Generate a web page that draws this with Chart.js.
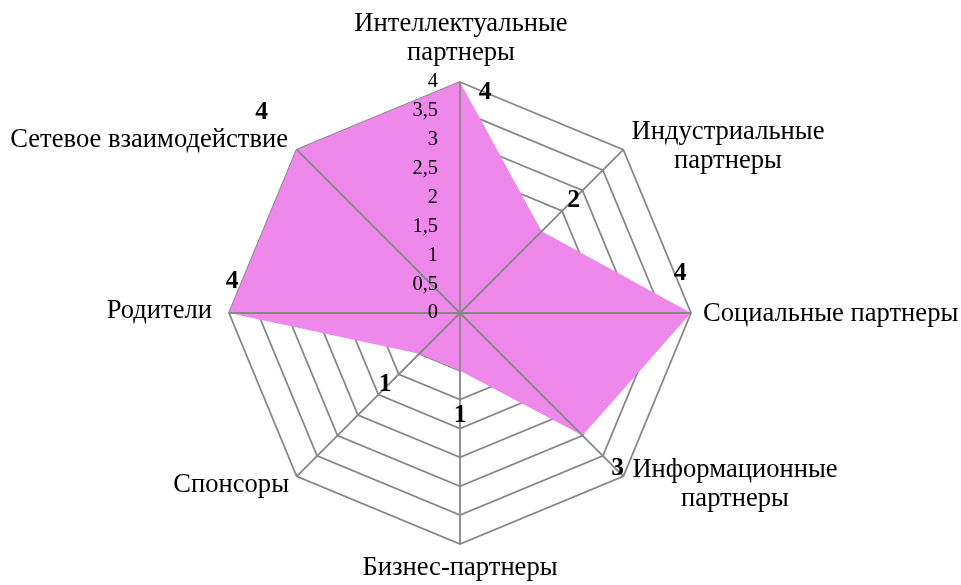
<!DOCTYPE html>
<html>
<head>
<meta charset="utf-8">
<script src="https://cdn.jsdelivr.net/npm/chart.js@4/dist/chart.umd.min.js"></script>
<style>
  html, body { margin: 0; padding: 0; background: #fff; }
  #wrap { width: 961px; height: 585px; }
</style>
</head>
<body>
<div id="wrap"><canvas id="myChart" width="961" height="585"></canvas></div>
<script>
// данные диаграммы
const categories = [
    ["Интеллектуальные", "партнеры"],
    ["Индустриальные", "партнеры"],
    ["Социальные партнеры"],
    ["Информационные", "партнеры"],
    ["Бизнес-партнеры"],
    ["Спонсоры"],
    ["Родители"],
    ["Сетевое взаимодействие"]
];
const values = [4, 2, 4, 3, 1, 1, 4, 4];
const tickLabels = ["0", "0,5", "1", "1,5", "2", "2,5", "3", "3,5", "4"];

const serif = "'Liberation Serif', 'Times New Roman', serif";
const gridColor = '#878787';

// position des libellés d'axes (ligne de base de la 1re ligne + alignement)
const catLabelPos = [
    { x: 461, y: 31, align: 'center' },
    { x: 728, y: 139, align: 'center' },
    { x: 703, y: 321, align: 'left' },
    { x: 735, y: 477, align: 'center' },
    { x: 460, y: 575, align: 'center' },
    { x: 289, y: 492, align: 'right' },
    { x: 212, y: 318, align: 'right' },
    { x: 288, y: 147, align: 'right' }
];
// décalage des étiquettes de valeurs par rapport au point
const valueLabelOffset = [
    [25, 10], [32, -31], [-11, -40], [35, 33],
    [0, 45], [-34, 31], [3, -32], [-35, -37]
];

const labelsPlugin = {
    id: 'labelsPlugin',
    // les rayons passent au-dessus du remplissage, les anneaux en dessous
    afterDatasetsDraw(chart) {
        const ctx = chart.ctx;
        const scale = chart.scales.r;
        ctx.save();
        ctx.strokeStyle = gridColor;
        ctx.lineWidth = 1.8;
        categories.forEach((c, i) => {
            const pt = scale.getPointPosition(i, scale.drawingArea);
            ctx.beginPath();
            ctx.moveTo(scale.xCenter, scale.yCenter);
            ctx.lineTo(pt.x, pt.y);
            ctx.stroke();
        });
        ctx.restore();
    },
    afterDraw(chart) {
        const ctx = chart.ctx;
        const scale = chart.scales.r;
        ctx.save();
        ctx.fillStyle = '#000';

        // graduations à gauche de l'axe vertical
        ctx.textBaseline = 'middle';
        ctx.font = '20.5px ' + serif;
        ctx.textAlign = 'right';
        tickLabels.forEach((t, i) => {
            const d = scale.getDistanceFromCenterForValue(i * 0.5);
            ctx.fillText(t, scale.xCenter - 22, scale.yCenter - d);
        });

        // noms des catégories
        ctx.textBaseline = 'alphabetic';
        ctx.font = '26.6px ' + serif;
        categories.forEach((lines, i) => {
            const p = catLabelPos[i];
            ctx.textAlign = p.align;
            lines.forEach((line, j) => {
                ctx.fillText(line, p.x, p.y + j * 28.5);
            });
        });

        // valeurs en gras
        ctx.textBaseline = 'middle';
        ctx.font = 'bold 25.5px ' + serif;
        ctx.textAlign = 'center';
        values.forEach((v, i) => {
            const pt = scale.getPointPositionForValue(i, v);
            ctx.fillText(String(v), pt.x + valueLabelOffset[i][0], pt.y + valueLabelOffset[i][1]);
        });
        ctx.restore();
    }
};

const ctx = document.getElementById('myChart').getContext('2d');
const myChart = new Chart(ctx, {
    type: 'radar',
    data: {
        labels: categories.map(c => c.join(' ')),
        datasets: [{
            data: values,
            backgroundColor: '#ee88ea',
            borderWidth: 0,
            pointRadius: 0,
            fill: true
        }]
    },
    options: {
        responsive: false,
        animation: false,
        layout: { padding: { left: 229, right: 270, top: 82, bottom: 41 } },
        plugins: { legend: { display: false }, tooltip: { enabled: false } },
        scales: {
            r: {
                min: 0,
                max: 4,
                ticks: { stepSize: 0.5, display: false },
                grid: { color: gridColor, lineWidth: 1.8 },
                angleLines: { display: false },
                pointLabels: { display: false }
            }
        }
    },
    plugins: [labelsPlugin]
});
</script>
</body>
</html>
